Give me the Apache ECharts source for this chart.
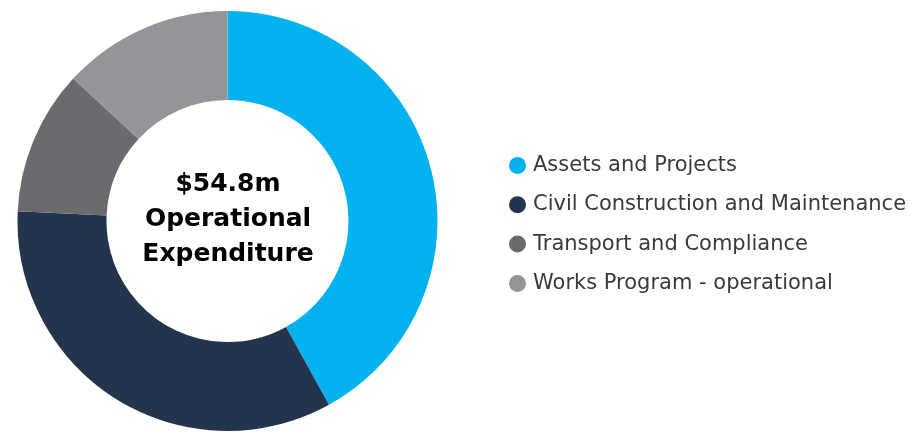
<!DOCTYPE html>
<html>
<head>
<meta charset="utf-8">
<script src="https://cdn.jsdelivr.net/npm/echarts@6/dist/echarts.min.js"></script>
<style>
  html, body { margin: 0; padding: 0; background: #fff; }
  #chart { width: 913px; height: 432px; }
</style>
</head>
<body>
<div id="chart"></div>
<script>
var categories = [
  "Assets and Projects",
  "Civil Construction and Maintenance",
  "Transport and Compliance",
  "Works Program - operational"
];
var values = [23.0, 18.5, 6.1, 7.2]; // $m
var colors = ["#02B2EE", "#23344D", "#6A6B6F", "#939598"];
var centerLines = ["$54.8m", "Operational", "Expenditure"];

var myChart = echarts.init(document.getElementById("chart"));

var option = {
  color: colors,
  animation: false,
  title: {
    text: centerLines.join("\n"),
    left: 228,
    top: 167,
    padding: 0,
    textAlign: "center",
    textStyle: {
      fontFamily: "DejaVu Sans",
      fontSize: 25,
      fontWeight: "bold",
      lineHeight: 35,
      color: "#000"
    }
  },
  legend: {
    orient: "vertical",
    left: 509,
    top: 155,
    padding: 0,
    icon: "circle",
    itemWidth: 17,
    itemHeight: 17,
    itemGap: 18.3,
    textStyle: {
      fontFamily: "DejaVu Sans",
      fontSize: 21,
      lineHeight: 21,
      color: "#3a3a3a",
      padding: [0, 0, 0, 2]
    },
    data: categories
  },
  series: [
    {
      name: "Operational Expenditure",
      type: "pie",
      center: [227.5, 221],
      radius: [121, 210],
      startAngle: 90,
      clockwise: true,
      label: { show: false },
      labelLine: { show: false },
      emphasis: { disabled: true },
      data: categories.map(function (name, i) {
        return { name: name, value: values[i] };
      })
    }
  ]
};

myChart.setOption(option);
</script>
</body>
</html>
